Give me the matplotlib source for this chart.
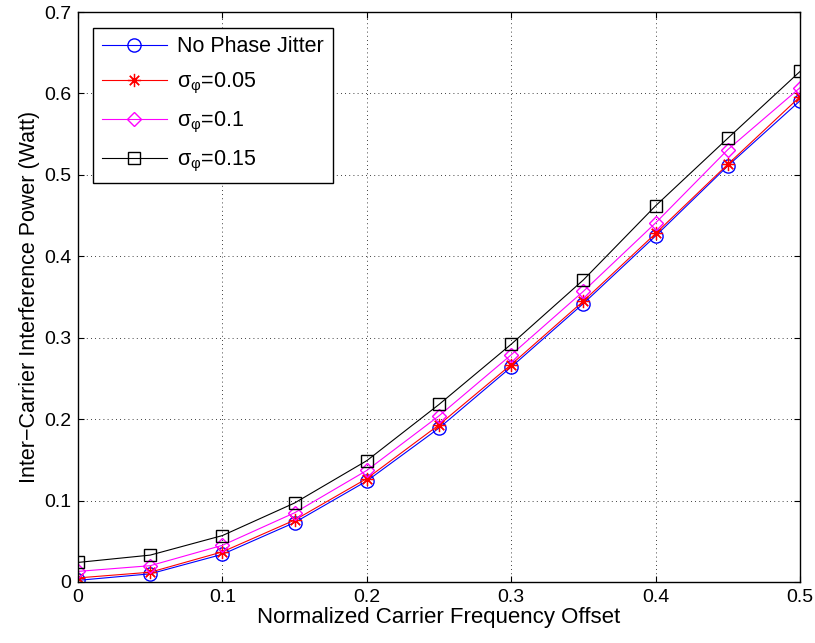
import matplotlib
matplotlib.use("Agg")
import matplotlib.pyplot as plt
import numpy as np

plt.rcParams["font.family"] = ["Liberation Sans", "DejaVu Sans"]
plt.rcParams["mathtext.fontset"] = "custom"
plt.rcParams["mathtext.rm"] = "Liberation Sans"
plt.rcParams["mathtext.it"] = "Liberation Sans"

# data
cfo = [0, 0.05, 0.1, 0.15, 0.2, 0.25, 0.3, 0.35, 0.4, 0.45, 0.5]
no_jitter = [0.002, 0.010, 0.034, 0.073, 0.124, 0.189, 0.264, 0.342, 0.425, 0.511, 0.591]
sigma_005 = [0.005, 0.012, 0.037, 0.076, 0.127, 0.193, 0.267, 0.345, 0.428, 0.513, 0.596]
sigma_010 = [0.013, 0.020, 0.045, 0.085, 0.137, 0.204, 0.279, 0.357, 0.441, 0.531, 0.607]
sigma_015 = [0.024, 0.033, 0.057, 0.097, 0.149, 0.218, 0.292, 0.371, 0.462, 0.545, 0.627]

fig = plt.figure(figsize=(8.15, 6.43), dpi=100)
ax = fig.add_axes([0.0957, 0.0949, 0.8859, 0.8864])

ax.plot(cfo, no_jitter, color="blue", marker="o", mfc="none", ms=9.5, lw=0.8, label="No Phase Jitter")
ax.plot(cfo, sigma_005, color="red", marker=(8, 2, 0), ms=9.5, mew=0.9, lw=0.8, label="σ$_{φ}$=0.05")
ax.plot(cfo, sigma_010, color="magenta", marker="D", mfc="none", ms=7.5, lw=0.8, label="σ$_{φ}$=0.1")
ax.plot(cfo, sigma_015, color="black", marker="s", mfc="none", ms=8.5, lw=0.8, label="σ$_{φ}$=0.15")

ax.set_xlim(0, 0.5)
ax.set_ylim(0, 0.7)
ax.set_xticks(np.arange(0, 0.51, 0.1))
ax.set_yticks(np.arange(0, 0.71, 0.1))
ax.set_xticklabels(["0", "0.1", "0.2", "0.3", "0.4", "0.5"])
ax.set_yticklabels(["0", "0.1", "0.2", "0.3", "0.4", "0.5", "0.6", "0.7"])
ax.tick_params(direction="in", labelsize=14, top=True, right=True, length=4, pad=5)
ax.grid(True, color="black", linestyle=(0, (1, 4)), linewidth=0.6)
for s in ax.spines.values():
    s.set_linewidth(1.0)

ax.set_xlabel("Normalized Carrier Frequency Offset", fontsize=16, labelpad=1)
ax.set_ylabel("Inter\u2212Carrier Interference Power (Watt)", fontsize=15.5, labelpad=3)

leg = ax.legend(loc="upper left", fontsize=15.5, handlelength=3.0, fancybox=False,
                edgecolor="black", framealpha=1, borderaxespad=0.72, labelspacing=0.65,
                handletextpad=0.5)
leg.get_frame().set_linewidth(1.0)

fig.savefig("out.png", dpi=100)
